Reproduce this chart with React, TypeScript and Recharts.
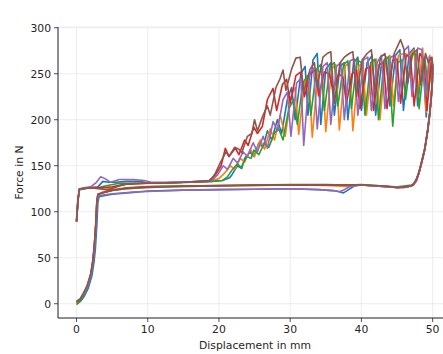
import React from 'react';
import { LineChart, Line, XAxis, YAxis, CartesianGrid } from 'recharts';

type P = [number, number];

const titleText = 'Conditioning: 50°C, 0% r.H.';
const xLabelText = 'Displacement in mm';
const yLabelText = 'Force in N';
const xTicks = [0, 10, 20, 30, 40, 50];
const yTicks = [0, 50, 100, 150, 200, 250, 300];
const seriesNames = ['s1', 's2', 's3', 's4', 's5', 's6'];
const seriesColors = ['#1f77b4', '#ff7f0e', '#2ca02c', '#d62728', '#9467bd', '#8c564b'];

// ---------- upper (return) branch, x from 0 to onset of serrations ----------
const blueUpper: P[] = [[0, 90], [0.2, 112], [0.4, 124], [1, 125], [2, 126], [3, 127], [3.7, 133], [4.5, 132], [5.5, 132], [7, 133], [9, 133], [10, 131], [13, 131], [16, 132], [19, 133], [20.5, 134], [21.5, 137]];
const orangeUpper: P[] = [[0, 90], [0.2, 112], [0.4, 124], [1, 125], [2, 127], [3, 126], [4, 124], [5, 126], [6.5, 130], [8, 131], [10, 131], [15, 132], [19, 134], [20, 136]];
const greenUpper: P[] = [[0, 89], [0.2, 111], [0.4, 124], [2, 126], [3, 126], [4, 128], [6, 131], [10, 131], [15, 132], [19, 133], [20.5, 134], [21.2, 138]];
const redUpper: P[] = [[0, 90], [0.2, 113], [0.4, 125], [2, 126], [3.5, 126], [5, 127], [7, 130], [10, 131], [15, 132], [18.5, 133], [19.5, 140]];
const purpleUpper: P[] = [[0, 89], [0.2, 112], [0.4, 124], [1, 126], [2, 127], [2.8, 132], [3.4, 138], [4, 136], [4.8, 132], [6, 135], [8, 135], [9.5, 134], [10.5, 132], [15, 132], [19, 134]];
const brownUpper: P[] = [[0, 89], [0.2, 113], [0.4, 125], [2, 126], [3, 125], [4.5, 124], [6, 128], [7, 130], [10, 131], [15, 132], [18.8, 134]];

// ---------- serrated section ----------
const blueSaw: P[] = [[21.8, 140], [22.6, 150], [23.2, 147], [23.6, 158], [24.4, 165], [24.9, 160], [25.6, 175], [26.2, 170], [26.8, 188], [27.4, 178], [28.2, 200], [28.8, 185], [29.6, 222], [30.2, 235], [30.7, 200], [31.5, 250], [32.1, 258], [32.5, 205], [33.2, 265], [33.8, 272], [34.3, 195], [35.0, 255], [35.7, 262], [36.2, 205], [37.0, 258], [37.6, 262], [38.1, 200], [38.9, 262], [39.5, 268], [40.0, 210], [40.8, 262], [41.5, 270], [42.0, 205], [42.8, 260], [43.5, 268], [44.0, 215], [44.8, 270], [45.4, 276], [45.9, 210], [46.7, 272], [47.4, 278], [47.9, 215], [48.6, 268], [49.1, 203], [49.6, 262], [49.9, 264]];
const orangeSaw: P[] = [[20.8, 142], [21.6, 150], [22.2, 146], [23.0, 158], [23.6, 154], [24.4, 168], [25.0, 160], [25.8, 178], [26.4, 168], [27.2, 190], [27.8, 178], [28.6, 205], [29.3, 182], [30.1, 225], [30.7, 235], [31.2, 184], [32.0, 240], [32.6, 248], [33.1, 181], [33.9, 250], [34.5, 255], [35.0, 187], [35.8, 255], [36.4, 260], [36.9, 189], [37.7, 258], [38.3, 262], [38.8, 188], [39.6, 258], [40.2, 262], [40.7, 205], [41.5, 262], [42.1, 266], [42.6, 200], [43.4, 266], [44.0, 270], [44.5, 215], [45.2, 270], [46.0, 272], [46.8, 270], [47.4, 276], [47.9, 225], [48.6, 278], [49.1, 208], [49.6, 270], [49.9, 255]];
const greenSaw: P[] = [[21.8, 145], [22.6, 152], [23.1, 148], [23.9, 160], [24.5, 158], [24.9, 167], [25.6, 162], [26.4, 175], [27.0, 170], [27.8, 186], [28.4, 190], [29.0, 178], [29.8, 212], [30.5, 222], [31.0, 195], [31.8, 240], [32.4, 248], [32.9, 205], [33.7, 255], [34.3, 260], [34.8, 210], [35.6, 258], [36.2, 262], [36.7, 215], [37.5, 260], [38.1, 264], [38.6, 212], [39.4, 265], [40.0, 262], [40.5, 205], [41.3, 262], [41.9, 266], [42.4, 200], [43.2, 265], [43.8, 268], [44.4, 193], [45.1, 262], [45.7, 265], [46.2, 222], [47.0, 270], [47.6, 272], [48.1, 212], [48.9, 268], [49.4, 230], [49.9, 262]];
const redSaw: P[] = [[20.3, 150], [20.9, 169], [21.4, 160], [22.3, 169], [22.8, 162], [23.6, 178], [24.1, 172], [24.9, 192], [25.4, 185], [26.1, 193], [26.8, 222], [27.6, 234], [28.1, 210], [28.9, 238], [29.5, 244], [30.0, 218], [30.8, 248], [31.5, 252], [32.0, 225], [32.8, 250], [33.5, 254], [34.0, 226], [34.8, 252], [35.5, 250], [36.0, 232], [36.8, 250], [37.4, 246], [37.9, 218], [38.7, 250], [39.3, 254], [39.8, 212], [40.6, 255], [41.2, 258], [41.7, 210], [42.5, 260], [43.1, 262], [43.6, 212], [44.4, 264], [45.0, 266], [45.5, 218], [46.3, 270], [46.9, 268], [47.4, 215], [48.2, 272], [48.8, 265], [49.2, 210], [49.8, 262]];
const purpleSaw: P[] = [[19.8, 140], [20.6, 150], [21.2, 146], [22.0, 158], [22.6, 153], [23.4, 165], [24.0, 160], [24.8, 175], [25.4, 165], [26.2, 182], [26.8, 169], [27.6, 198], [28.2, 188], [29.0, 222], [29.6, 230], [30.1, 182], [30.9, 240], [31.5, 245], [31.9, 172], [32.7, 250], [33.3, 256], [33.8, 190], [34.6, 258], [35.2, 262], [35.7, 195], [36.5, 258], [37.1, 262], [37.6, 200], [38.4, 264], [39.0, 266], [39.5, 205], [40.3, 265], [40.9, 268], [41.4, 210], [42.2, 262], [42.8, 270], [43.3, 212], [44.1, 268], [44.7, 270], [45.2, 220], [46.0, 275], [46.6, 280], [47.1, 225], [47.9, 278], [48.5, 276], [49.0, 225], [49.5, 268], [49.9, 265]];
const brownSaw: P[] = [[19.5, 142], [20.3, 155], [21.0, 165], [21.4, 160], [22.2, 170], [22.8, 168], [23.2, 164], [24.0, 182], [24.6, 185], [25.0, 200], [25.4, 188], [26.2, 205], [26.8, 215], [27.2, 205], [28.0, 235], [28.6, 245], [29.0, 254], [29.4, 232], [30.2, 255], [30.8, 267], [31.4, 268], [31.9, 230], [32.8, 255], [33.4, 262], [33.8, 236], [34.6, 268], [35.2, 272], [35.7, 274], [36.2, 218], [37.0, 262], [37.6, 268], [38.3, 272], [38.8, 274], [39.3, 225], [40.1, 265], [40.8, 272], [41.4, 276], [41.9, 232], [42.7, 268], [43.3, 272], [43.8, 238], [44.6, 272], [45.5, 287], [46.0, 276], [46.5, 240], [47.2, 272], [47.8, 276], [48.3, 238], [49.0, 272], [49.4, 262], [49.9, 268]];

// ---------- steep end rise + lower (loading) branch, back to origin ----------
const blueLower: P[] = [[50.0, 258], [49.95, 240], [49.8, 224], [49.6, 207], [49.3, 188], [48.9, 168], [48.5, 155], [48.1, 143], [47.7, 134], [47.3, 130], [47.0, 128], [46.0, 127], [44.0, 127], [42.0, 128], [40.0, 129], [39.0, 128], [38.2, 124], [37.5, 120.5], [37.0, 121.5], [36.0, 123], [34.0, 124], [30.0, 125], [25.0, 124.5], [20.0, 124], [15.0, 123.5], [10.0, 122.5], [8.0, 121], [5.0, 119], [3.5, 117], [3.15, 116], [3.0, 110], [2.85, 85], [2.65, 60], [2.45, 45], [2.15, 30], [1.65, 17], [1.15, 9], [0.6, 3], [0.05, 0]];
const orangeLower: P[] = [[50.0, 258], [49.95, 240], [49.8, 224], [49.6, 207], [49.3, 188], [48.9, 168], [48.5, 155], [48.1, 143], [47.7, 134], [47.3, 130], [47.0, 128], [46.0, 127], [45.0, 126.5], [44.0, 127.5], [42.0, 128], [40.0, 129], [38.0, 127.5], [35.0, 128.5], [30.0, 129], [25.0, 128.5], [20.0, 128], [15.0, 127.5], [10.0, 126.5], [7.0, 125], [5.0, 123], [3.5, 120], [3.0, 118.5], [2.85, 110], [2.7, 85], [2.5, 62], [2.3, 46], [2.0, 31], [1.5, 18], [1.0, 10], [0.5, 4], [0.0, 1]];
const greenLower: P[] = [[50.0, 260], [49.95, 241], [49.8, 225], [49.6, 208], [49.3, 189], [48.9, 169], [48.5, 156], [48.1, 143], [47.7, 135], [47.3, 130], [47.0, 129], [46.0, 128], [45.0, 127], [44.0, 127.5], [42.0, 128.5], [40.0, 129.5], [38.0, 129], [35.0, 129], [30.0, 129], [25.0, 128.5], [20.0, 128], [15.0, 127.5], [10.0, 126.5], [7.0, 125], [5.0, 123], [3.5, 120], [3.0, 118], [2.85, 108], [2.7, 84], [2.5, 61], [2.3, 45], [2.0, 30], [1.5, 17], [1.0, 9], [0.5, 3], [0.0, -1]];
const redLower: P[] = [[50.0, 256], [49.95, 238], [49.8, 222], [49.6, 205], [49.3, 187], [48.9, 167], [48.5, 154], [48.1, 142], [47.7, 133], [47.3, 129], [47.0, 128], [46.0, 126.5], [45.0, 126], [44.0, 127], [42.0, 128], [40.0, 129], [38.0, 129], [35.0, 129], [30.0, 129], [25.0, 129], [20.0, 128.5], [15.0, 128], [10.0, 127], [7.0, 125.5], [5.0, 123.5], [3.5, 120.5], [3.0, 119], [2.85, 110], [2.7, 86], [2.5, 63], [2.3, 47], [2.0, 32], [1.5, 19], [1.0, 11], [0.5, 5], [0.0, 2]];
const purpleLower: P[] = [[50.0, 258], [49.95, 240], [49.8, 224], [49.6, 207], [49.3, 188], [48.9, 168], [48.5, 155], [48.1, 143], [47.7, 134], [47.3, 130], [47.0, 128], [46.0, 126.5], [44.0, 127], [42.0, 128], [40.0, 129], [38.5, 128], [37.6, 124], [37.0, 122], [36.0, 123], [34.0, 124], [30.0, 125], [25.0, 124.5], [20.0, 124], [15.0, 123.5], [10.0, 122], [8.0, 121.5], [5.0, 119.5], [3.5, 118], [3.05, 117], [2.9, 110], [2.75, 86], [2.55, 62], [2.35, 47], [2.05, 32], [1.55, 19], [1.05, 11], [0.5, 5], [0.0, 3]];
const brownLower: P[] = [[50.0, 260], [49.95, 242], [49.8, 225], [49.6, 208], [49.3, 189], [48.9, 169], [48.5, 156], [48.1, 144], [47.7, 135], [47.3, 130], [47.0, 128], [46.0, 127], [45.0, 126], [44.0, 127.5], [42.0, 128.5], [40.0, 129], [38.0, 129], [35.0, 129.5], [30.0, 129.5], [25.0, 129], [20.0, 128.5], [15.0, 128], [10.0, 127.5], [7.0, 126], [5.0, 123.5], [3.5, 120.5], [3.0, 119], [2.85, 111], [2.7, 87], [2.5, 64], [2.3, 48], [2.0, 33], [1.5, 20], [1.0, 12], [0.5, 5], [0.0, 2]];

const uppers = [blueUpper, orangeUpper, greenUpper, redUpper, purpleUpper, brownUpper];
const saws = [blueSaw, orangeSaw, greenSaw, redSaw, purpleSaw, brownSaw];
const lowers = [blueLower, orangeLower, greenLower, redLower, purpleLower, brownLower];

const FONT = '"DejaVu Sans", sans-serif';
const TEXT = '#262626';
const SPINE = '#262626';

const TitleLabel = (props: any) => {
  const vb = props.viewBox || { x: 58, y: 27, width: 395, height: 0 };
  return (
    <text x={vb.x + vb.width / 2 - 1} y={18.5} textAnchor="middle" fontFamily={FONT} fontSize={12.6} fill={TEXT}>
      {titleText}
    </text>
  );
};

const XLabel = (props: any) => {
  const vb = props.viewBox || { x: 58, y: 318, width: 395, height: 36 };
  return (
    <text x={vb.x + vb.width / 2 - 1} y={vb.y + 31} textAnchor="middle" fontFamily={FONT} fontSize={10.8} fill={TEXT}>
      {xLabelText}
    </text>
  );
};

const YLabel = (props: any) => {
  const vb = props.viewBox || { x: 0, y: 27, width: 58, height: 291 };
  const cx = 22.5;
  const cy = vb.y + vb.height / 2;
  return (
    <text x={cx} y={cy} transform={`rotate(-90, ${cx}, ${cy})`} textAnchor="middle" fontFamily={FONT} fontSize={10.8} fill={TEXT}>
      {yLabelText}
    </text>
  );
};

export default function App() {
  const series = seriesNames.map((name, i) => ({
    name,
    color: seriesColors[i],
    data: [...uppers[i], ...saws[i], ...lowers[i]].map(([x, y]) => ({ x, y })),
  }));
  const tickStyle = { fontFamily: FONT, fontSize: 10.8, fill: TEXT };
  return (
    <div style={{ position: 'fixed', left: 0, top: 0, width: 443, height: 354, overflow: 'hidden', background: '#fff' }}>
      <LineChart width={462} height={354} margin={{ top: 27, right: 8, bottom: 0, left: 0 }}>
        <CartesianGrid stroke="#e8e8e8" strokeWidth={0.8} />
        <XAxis
          dataKey="x"
          type="number"
          domain={[-2.6, 53]}
          ticks={xTicks}
          allowDataOverflow
          height={36}
          tickSize={4}
          tickMargin={3}
          tick={tickStyle}
          axisLine={{ stroke: SPINE, strokeWidth: 1 }}
          tickLine={{ stroke: SPINE, strokeWidth: 0.8 }}
          label={<XLabel />}
        />
        <XAxis
          xAxisId="top"
          orientation="top"
          dataKey="x"
          type="number"
          domain={[-2.6, 53]}
          height={0}
          tick={false}
          tickLine={false}
          axisLine={{ stroke: SPINE, strokeWidth: 1 }}
          label={<TitleLabel />}
        />
        <YAxis
          type="number"
          domain={[-15.5, 300.8]}
          ticks={yTicks}
          allowDataOverflow
          width={58}
          tickSize={4}
          tickMargin={3}
          tick={tickStyle}
          axisLine={{ stroke: SPINE, strokeWidth: 1 }}
          tickLine={{ stroke: SPINE, strokeWidth: 0.8 }}
          label={<YLabel />}
        />
        {series.map((s) => (
          <Line
            key={s.name}
            data={s.data}
            dataKey="y"
            type="linear"
            stroke={s.color}
            strokeWidth={1.6}
            dot={false}
            activeDot={false}
            isAnimationActive={false}
            strokeLinejoin="round"
          />
        ))}
      </LineChart>
    </div>
  );
}
